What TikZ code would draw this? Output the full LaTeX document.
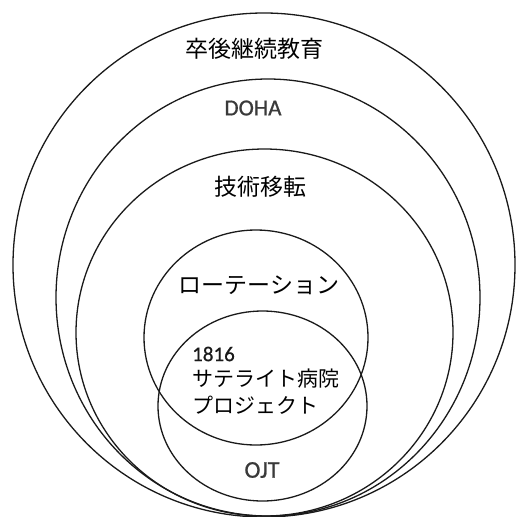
\documentclass[tikz,border=0pt]{standalone}
\usepackage{fontspec}
\usetikzlibrary{shapes.geometric}
\newfontfamily\jp{Noto Sans CJK JP}
\newfontfamily\lat[FakeBold=0.8]{Carlito}
\definecolor{ink}{HTML}{1A1A1A}
\definecolor{graytext}{HTML}{3A3A3A}
\tikzset{
  ring/.style={draw=ink, line width=1.3pt, ellipse, inner sep=0pt},
  jplabel/.style={font=\jp\fontsize{23}{26}\selectfont, text=black, inner sep=0pt},
  latlabel/.style={font=\lat\fontsize{23}{26}\selectfont, text=graytext, inner sep=0pt},
}
\begin{document}
\begin{tikzpicture}[x=1pt,y=-1pt]
\useasboundingbox (0,0) rectangle (515,517);
\fill[white] (0,0) rectangle (515,517);
% rings
\node[ring, minimum width=502pt, minimum height=504pt] (c1) at (264,265) {};
\node[ring, minimum width=424pt, minimum height=437pt] (c2) at (268,297.5) {};
\node[ring, minimum width=377pt, minimum height=367pt] (c3) at (264.5,332.5) {};
\node[ring, minimum width=224pt, minimum height=215pt] (c4) at (256,337.5) {};
\node[ring, minimum width=209pt, minimum height=190pt] (c5) at (262.5,406) {};
% labels
\node[jplabel] (t1) at (254,49) {卒後継続教育};
\node[latlabel] (t2) at (253,108) {DOHA};
\node[jplabel] (t3) at (260,187) {技術移転};
\node[jplabel] (t4) at (259,285) {ローテーション};
\node[latlabel, text=ink, font=\lat\fontsize{21}{24}\selectfont, anchor=west] (t5) at (192,354) {1816};
\node[jplabel, font=\jp\fontsize{21}{24}\selectfont, anchor=west] (t6) at (192,379) {サテライト病院};
\node[jplabel, font=\jp\fontsize{21}{24}\selectfont, anchor=west] (t7) at (192,405) {プロジェクト};
\node[latlabel, font=\lat\fontsize{24}{26}\selectfont] (t8) at (262,470) {OJT};
\end{tikzpicture}
\end{document}
